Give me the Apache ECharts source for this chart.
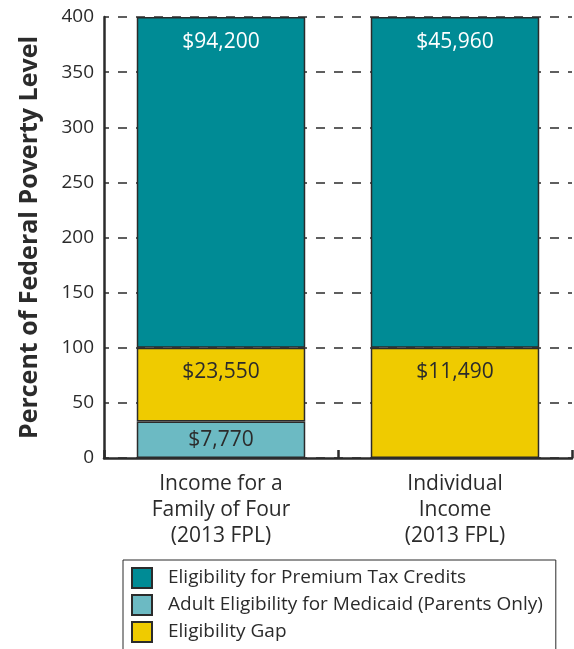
<!DOCTYPE html>
<html>
<head>
<meta charset="utf-8">
<script src="https://cdn.jsdelivr.net/npm/echarts@6/dist/echarts.min.js"></script>
<style>
  html, body { margin: 0; padding: 0; background: #fff; }
  #chart { width: 574px; height: 649px; }
</style>
</head>
<body>
<div id="chart"></div>
<script>
// categories and stacked segment sizes (percent of FPL)
const categories = ['Income for a\nFamily of Four\n(2013 FPL)', 'Individual\nIncome\n(2013 FPL)']
const medicaid = [33, null]
const gap = [67, 100]
const premium = [300, 300]
// dollar amounts written in each segment
const medicaidLabels = ['$7,770', '']
const gapLabels = ['$23,550', '$11,490']
const premiumLabels = ['$94,200', '$45,960']
const yTicks = [0, 50, 100, 150, 200, 250, 300, 350, 400]

const font = '"Open Sans", Lato, sans-serif'
const dark = '#2b2b2b'

const chart = echarts.init(document.getElementById('chart'))

function seg(name, data, labels, color, textColor, dist) {
  return {
    name: name,
    type: 'bar',
    stack: 'fpl',
    barWidth: '72%',
    data: data,
    itemStyle: { color: color, borderColor: dark, borderWidth: 1.5 },
    label: {
      show: true,
      position: 'insideTop',
      distance: dist,
      fontFamily: font,
      fontSize: 21,
      color: textColor,
      formatter: function (p) { return labels[p.dataIndex] }
    }
  }
}

chart.setOption({
  animation: false,
  grid: { left: 104, right: 2, top: 17, bottom: 191 },
  legend: {
    orient: 'vertical',
    left: 123,
    top: 560,
    height: 120,
    padding: [7, 13, 40, 8],
    borderColor: dark,
    borderWidth: 1,
    itemWidth: 20,
    itemHeight: 20,
    itemGap: 5,
    icon: 'rect',
    selectedMode: false,
    data: ['Eligibility for Premium Tax Credits', 'Adult Eligibility for Medicaid (Parents Only)', 'Eligibility Gap'],
    textStyle: { fontFamily: font, fontSize: 19, lineHeight: 20, color: dark, padding: [0, 0, 0, 11] }
  },
  xAxis: {
    type: 'category',
    data: categories,
    axisLine: { lineStyle: { color: dark, width: 2.5 } },
    axisTick: { show: true, inside: true, length: 8, lineStyle: { color: dark, width: 2.5 } },
    axisLabel: { fontFamily: font, fontSize: 21, color: dark, lineHeight: 26, margin: 13 }
  },
  yAxis: {
    type: 'value',
    min: 0,
    max: 400,
    interval: 50,
    name: 'Percent of Federal Poverty Level',
    nameLocation: 'middle',
    nameRotate: 90,
    nameGap: 62,
    nameTextStyle: { fontFamily: font, fontSize: 25, fontWeight: 'bold', color: dark },
    axisLine: { show: true, lineStyle: { color: dark, width: 2.5 } },
    axisTick: { show: false },
    axisLabel: {
      fontFamily: font, fontSize: 19, color: dark, margin: 10,
      formatter: function (v) { return yTicks.indexOf(v) >= 0 ? String(v) : '' }
    },
    splitLine: { show: true, lineStyle: { color: dark, width: 1.5, type: [9, 9], dashOffset: -14 } }
  },
  series: [
    seg('Adult Eligibility for Medicaid (Parents Only)', medicaid, medicaidLabels, '#6cbac3', dark, 8),
    seg('Eligibility Gap', gap, gapLabels, '#efcb00', dark, 14),
    seg('Eligibility for Premium Tax Credits', premium, premiumLabels, '#008b95', '#ffffff', 15)
  ]
})
</script>
</body>
</html>
